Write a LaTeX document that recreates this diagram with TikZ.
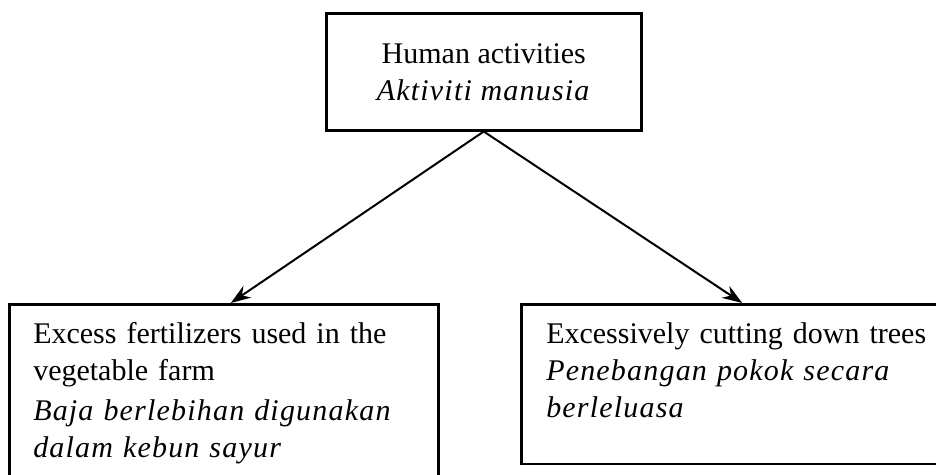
\documentclass[tikz,border=0pt]{standalone}
\usepackage{fontspec}
\setmainfont{Liberation Serif}[ItalicFeatures={LetterSpace=4}]
\usepackage{tikz}
\usetikzlibrary{positioning, arrows.meta}
\tikzset{>={Stealth[length=20pt,width=14pt]},
box/.style={draw, rectangle, line width=2.5pt, inner xsep=24pt, inner ysep=18.5pt,
  font=\fontsize{30}{37}\selectfont}}

\begin{document}
\begin{tikzpicture}[x=1pt,y=-1pt]
\useasboundingbox (0,0) rectangle (936,474);
\clip (0,0) rectangle (936,474);
\node[box, align=center, minimum width=315pt, minimum height=117pt, anchor=north west] (human) at (325,12) {Human activities\\\textit{Aktiviti manusia}};
\node[box, align=left, text width=381pt, anchor=north west] (fert) at (8,303)
  {Excess fertilizers used in the\\vegetable farm\\[3pt]\textit{Baja berlebihan digunakan}\\\textit{dalam kebun sayur}};
\node[box, align=left, text width=385pt, inner xsep=25pt, text depth=102pt, anchor=north west] (trees) at (520,303)
  {Excessively cutting down trees\\\textit{Penebangan pokok secara}\\\textit{berleluasa}};
\draw[->, line width=2pt] (human.south) -- ([xshift=7pt]fert.north);
\draw[->, line width=2pt] (human.south) -- ([xshift=3.5pt]trees.north);
\end{tikzpicture}
\end{document}
